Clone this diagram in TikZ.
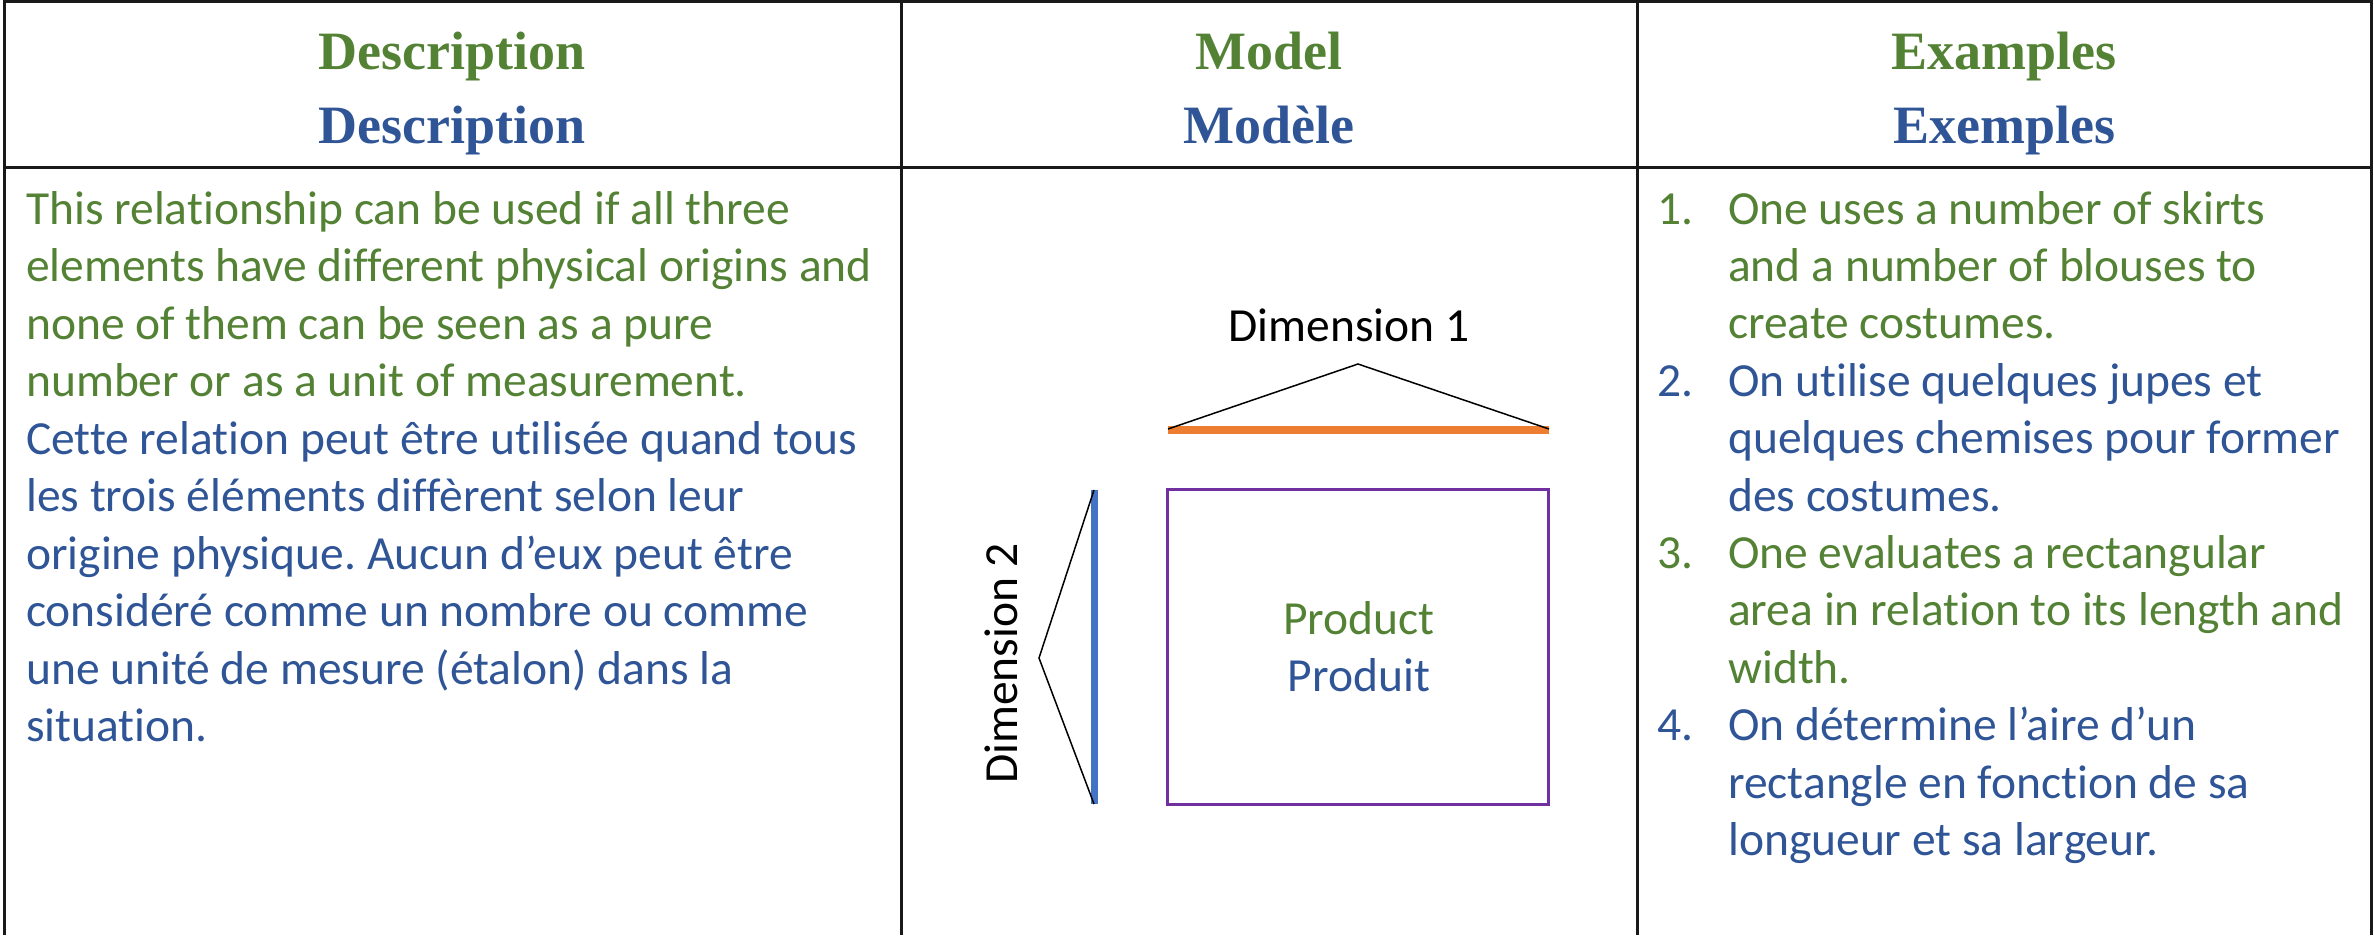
\documentclass[tikz,border=0pt]{standalone}
\usepackage{fontspec}
\setmainfont{Carlito}[Ligatures=NoCommon]
\newfontfamily\headfont{Liberation Serif}
\frenchspacing
\definecolor{engreen}{HTML}{548235}
\definecolor{frblue}{HTML}{2F5597}
\definecolor{dimorange}{HTML}{ED7D31}
\definecolor{dimblue}{HTML}{4472C4}
\definecolor{prodpurple}{HTML}{7030A0}
\begin{document}
\begin{tikzpicture}[x=1pt,y=-1pt,
  grid/.style={line width=3pt, black!90},
  thinline/.style={line width=1.5pt, black},
  head/.style={font=\headfont\bfseries\fontsize{54}{60}\selectfont, inner sep=0pt, anchor=base},
  body/.style={font=\fontsize{47.5}{57.5}\selectfont, inner sep=0pt, anchor=base west},
  label/.style={font=\fontsize{47.5}{57.5}\selectfont, inner sep=0pt, anchor=base}]
\useasboundingbox (0,0) rectangle (2374,935);

% table rules
\draw[grid] (4,935) -- (4,1.5) -- (2371,1.5) -- (2371,935);
\draw[grid] (4,167.5) -- (2371,167.5);
\draw[grid] (901,1.5) -- (901,935);
\draw[grid] (1637,1.5) -- (1637,935);

% column headings
\node[head, text=engreen] (h1en) at (452,69)  {Description};
\node[head, text=frblue]  (h1fr) at (452,143) {Description};
\node[head, text=engreen] (h2en) at (1269,69)  {Model};
\node[head, text=frblue]  (h2fr) at (1269,143) {Modèle};
\node[head, text=engreen] (h3en) at (2004,69)  {Examples};
\node[head, text=frblue]  (h3fr) at (2004,143) {Exemples};

% description column
\foreach \txt [count=\i] in {
  This relationship can be used if all three,
  elements have different physical origins and,
  none of them can be seen as a pure,
  number or as a unit of measurement.}
  \node[body, text=engreen] (den\i) at (26,{224+57.5*(\i-1)}) {\txt};
\foreach \txt [count=\i] in {
  Cette relation peut être utilisée quand tous,
  les trois éléments diffèrent selon leur,
  origine physique. Aucun d’eux peut être,
  considéré comme un nombre ou comme,
  une unité de mesure (étalon) dans la,
  situation.}
  \node[body, text=frblue] (dfr\i) at (26,{224+57.5*(\i+3)}) {\txt};

% model column
\coordinate (d1a) at (1168,429);
\coordinate (d1b) at (1549,429);
\coordinate (d1top) at (1358,364);
\draw[dimorange, line width=8pt] (1168,430) -- (1549,430);
\draw[thinline] (d1a) -- (d1top) -- (d1b);
\node[label] (dim1) at (1349,341) {Dimension 1};

\coordinate (d2a) at (1094,490);
\coordinate (d2b) at (1094,804);
\coordinate (d2tip) at (1039,658);
\draw[dimblue, line width=7pt] (d2a) -- (d2b);
\draw[thinline] (d2a) -- (d2tip) -- (d2b);
\node[label, rotate=90] (dim2) at (1017,663.5) {Dimension 2};

\node[draw=prodpurple, line width=3pt, minimum width=381pt, minimum height=315pt, inner sep=0pt] (prod) at (1358,646.5) {};
\node[label, text=engreen] (prodEn) at (1359,634) {Product};
\node[label, text=frblue]  (prodFr) at (1359,691) {Produit};

% examples column
\foreach \num/\txt/\col [count=\i] in {
  1./One uses a number of skirts/engreen,
   /and a number of blouses to/engreen,
   /create costumes./engreen,
  2./On utilise quelques jupes et/frblue,
   /quelques chemises pour former/frblue,
   /des costumes./frblue,
  3./One evaluates a rectangular/engreen,
   /area in relation to its length and/engreen,
   /width./engreen,
  4./On détermine l’aire d’un/frblue,
   /rectangle en fonction de sa/frblue,
   /longueur et sa largeur./frblue}
{
  \node[body, text=\col] (exn\i) at (1657,{224+57.4*(\i-1)}) {\num};
  \node[body, text=\col] (ex\i) at (1728,{224+57.4*(\i-1)}) {\txt};
}
\end{tikzpicture}
\end{document}
